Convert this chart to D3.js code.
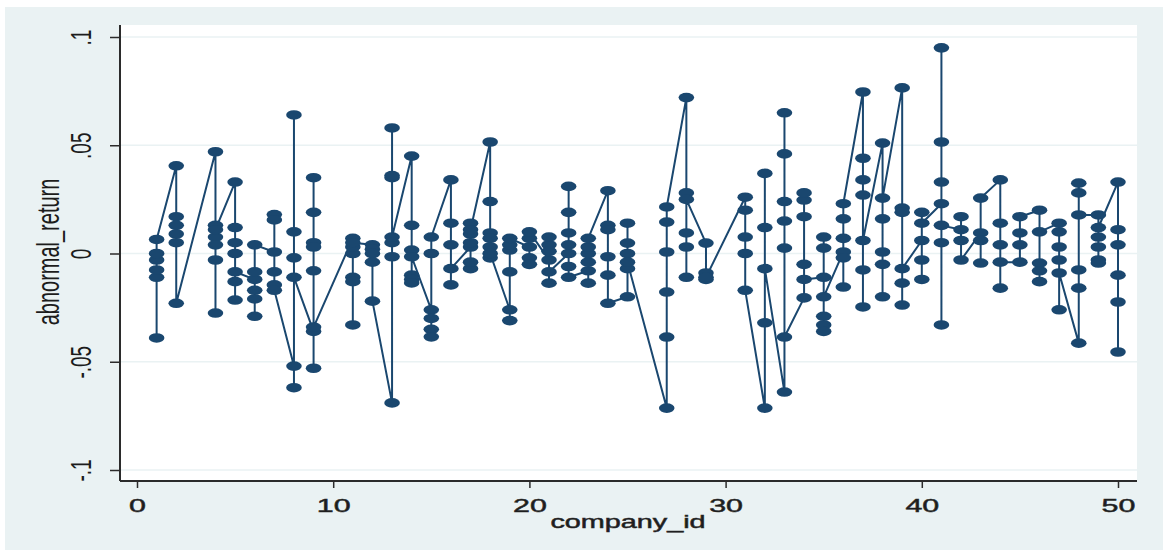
<!DOCTYPE html>
<meta charset="utf-8">

<!-- Load d3.js -->
<script src="https://d3js.org/d3.v7.min.js"></script>

<style>
  body { margin: 0; background: #ffffff; }
  text { font-family: "Liberation Sans", Arial, sans-serif; fill: #1c1c1c; }
</style>

<!-- Create a div where the graph will take place -->
<div id="chart_data"></div>

<script>
    // company ids that have observations (3, 10, 26 and 30 are missing)
    var companyIds = [1, 2, 4, 5, 6, 7, 8, 9, 11, 12, 13, 14, 15, 16, 17, 18, 19, 20, 21, 22, 23, 24, 25,
                      27, 28, 29, 31, 32, 33, 34, 35, 36, 37, 38, 39, 40, 41, 42, 43, 44, 45, 46, 47, 48, 49, 50];

    // abnormal returns per company, in the order the observations are connected
    var abnormalReturns = [
      [-0.039, -0.011, -0.0076, -0.003, 0.0, 0.0065],            // 1
      [0.0405, 0.017, 0.013, 0.009, 0.005, -0.023],              // 2
      [0.047, 0.013, 0.0076, 0.004, -0.003, -0.0275, 0.011],     // 4
      [0.033, 0.012, 0.005, -0.0215, -0.013, 0.0, -0.0085],      // 5
      [-0.012, -0.021, -0.029, -0.017, -0.0085, 0.004],          // 6
      [0.0007, 0.018, 0.0155, -0.0085, -0.0145, -0.017],         // 7
      [-0.052, -0.062, 0.064, 0.01, -0.002, -0.011],             // 8
      [-0.036, -0.053, 0.035, 0.019, 0.005, 0.003, -0.008, -0.034], // 9
      [0.007, -0.011, -0.033, -0.013, 0.0, 0.003, 0.005],        // 11
      [0.004, 0.002, 0.0, -0.004, -0.022],                       // 12
      [-0.069, -0.0015, 0.035, 0.058, 0.036, 0.005, 0.0076],     // 13
      [0.045, 0.013, -0.01, -0.012, -0.0136, 0.0016, -0.0015],   // 14
      [-0.026, -0.035, -0.0385, -0.03, 0.0, 0.0076],             // 15
      [0.034, 0.014, -0.0145, 0.004, -0.007],                    // 16
      [0.003, -0.007, -0.004, 0.005, 0.009, 0.014, 0.011],       // 17
      [0.0515, 0.024, 0.0095, 0.007, 0.003, -0.002, 0.0],        // 18
      [-0.026, -0.031, -0.0085, 0.0016, 0.004, 0.007],           // 19
      [0.003, -0.002, -0.005, 0.007, 0.01],                      // 20
      [-0.003, 0.004, 0.0076, 0.001, -0.0137, -0.0085],          // 21
      [0.0, 0.031, 0.019, 0.0095, 0.004, -0.006, -0.011],        // 22
      [-0.008, -0.0137, -0.004, 0.0, 0.003, 0.007],              // 23
      [0.029, 0.013, 0.011, -0.0015, -0.01, -0.023],             // 24
      [-0.02, 0.014, 0.0048, 0.0, -0.007, -0.004],               // 25
      [-0.0714, -0.0386, -0.0178, 0.0007, 0.0145, 0.0215],       // 27
      [0.072, 0.0095, -0.011, 0.003, 0.028, 0.025],              // 28
      [0.0048, -0.009, -0.012, -0.011],                          // 29
      [0.026, 0.02, 0.0076, 0.0, -0.017],                        // 31
      [-0.0714, -0.032, 0.012, 0.037, -0.007],                   // 32
      [-0.064, 0.0025, 0.015, 0.024, 0.046, 0.065, -0.0386],     // 33
      [-0.0205, -0.005, 0.017, 0.0247, 0.028, -0.012],           // 34
      [-0.011, 0.0076, 0.0025, -0.029, -0.033, -0.036, -0.02],   // 35
      [0.0007, -0.0155, -0.002, 0.007, 0.016, 0.023],            // 36
      [0.0746, 0.044, 0.034, 0.027, -0.0247, -0.0076, 0.006],    // 37
      [0.051, 0.016, -0.02, -0.005, 0.0007, 0.0256],             // 38
      [0.0765, 0.021, 0.019, -0.0238, -0.0137, -0.007],          // 39
      [0.006, -0.003, -0.012, 0.019, 0.014],                     // 40
      [0.023, 0.095, 0.0515, 0.033, 0.005, -0.033, 0.013],       // 41
      [0.011, 0.017, 0.006, -0.003],                             // 42
      [0.0095, -0.0044, 0.006, 0.0256],                          // 43
      [0.034, 0.014, -0.016, 0.004, -0.004],                     // 44
      [-0.004, 0.0095, 0.004, 0.017],                            // 45
      [0.02, -0.0044, -0.008, -0.013, 0.01],                     // 46
      [0.014, 0.01, 0.003, -0.026, -0.003, -0.009],              // 47
      [-0.0414, -0.016, -0.0076, 0.0325, 0.028, 0.0178],         // 48
      [0.0178, 0.0076, 0.003, -0.003, -0.0044, 0.012],           // 49
      [0.033, 0.011, 0.004, -0.01, -0.0224, -0.0455]             // 50
    ];

    // tick values and labels (Stata style)
    var xTicks = [0, 10, 20, 30, 40, 50];
    var xTickLabels = ["0", "10", "20", "30", "40", "50"];
    var yTicks = [-0.1, -0.05, 0, 0.05, 0.1];
    var yTickLabels = ["-.1", "-.05", "0", ".05", ".1"];

    // flatten into one row per observation, keeping the order
    var data = [];
    companyIds.forEach(function(id, i) {
      abnormalReturns[i].forEach(function(v) {
        data.push({ company_id: id, abnormal_return: v });
      });
    });

    var W = 1163, H = 553;
    var plot = {left: 120, right: 1137, top: 25, bottom: 481};
    var stretch = 1.6; // the picture is wider than tall, text is stretched with it
    var navy = "#1a476f";

    var svg = d3.select("#chart_data")
      .append("svg")
        .attr("width", W)
        .attr("height", H);

    // graph region and plot region backgrounds
    svg.append("rect")
      .attr("x", 5).attr("y", 7)
      .attr("width", W - 5).attr("height", H - 10)
      .attr("fill", "#eaf2f3");
    svg.append("rect")
      .attr("x", plot.left).attr("y", plot.top)
      .attr("width", plot.right - plot.left).attr("height", plot.bottom - plot.top)
      .attr("fill", "#ffffff");

    // scales
    var x = d3.scaleLinear()
      .domain([0, 50])
      .range([137, 1118]);
    var y = d3.scaleLinear()
      .domain([-0.1, 0.1])
      .range([470, 37]);

    // horizontal grid lines
    svg.append("g")
      .selectAll("line")
      .data(yTicks)
      .enter()
      .append("line")
        .attr("x1", plot.left)
        .attr("x2", plot.right)
        .attr("y1", function(d) { return y(d); })
        .attr("y2", function(d) { return y(d); })
        .attr("stroke", "#eaf2f3")
        .attr("stroke-width", 1.5);

    // connected line through all observations
    svg.append("path")
      .datum(data)
      .attr("fill", "none")
      .attr("stroke", navy)
      .attr("stroke-width", 2)
      .attr("stroke-linejoin", "round")
      .attr("d", d3.line()
        .x(function(d) { return x(d.company_id); })
        .y(function(d) { return y(d.abnormal_return); })
      );

    // markers
    svg.append("g")
      .selectAll("ellipse")
      .data(data)
      .enter()
      .append("ellipse")
        .attr("cx", function(d) { return x(d.company_id); })
        .attr("cy", function(d) { return y(d.abnormal_return); })
        .attr("rx", 7.8)
        .attr("ry", 4.8)
        .attr("fill", navy);

    // Y axis
    var yAxis = svg.append("g")
      .attr("transform", "translate(" + plot.left + ",0)")
      .call(d3.axisLeft(y)
        .tickValues(yTicks)
        .tickFormat(function(d, i) { return yTickLabels[i]; })
        .tickSize(10)
        .tickSizeOuter(0));
    yAxis.select(".domain")
      .attr("d", "M0," + plot.top + "V" + plot.bottom)
      .attr("stroke", "#2b2b2b").attr("stroke-width", 2);
    yAxis.selectAll(".tick line").attr("stroke", "#2b2b2b").attr("stroke-width", 1.5);
    yAxis.selectAll(".tick text")
      .attr("x", null).attr("dy", null)
      .attr("text-anchor", "middle")
      .attr("transform", "translate(-29,0) scale(" + stretch + ",1) rotate(-90)")
      .style("font-size", "19px")
      .style("font-family", "Liberation Sans, Arial, sans-serif")
      .attr("fill", "#1c1c1c");

    // X axis
    var xAxis = svg.append("g")
      .attr("transform", "translate(0," + plot.bottom + ")")
      .call(d3.axisBottom(x)
        .tickValues(xTicks)
        .tickFormat(function(d, i) { return xTickLabels[i]; })
        .tickSize(7)
        .tickSizeOuter(0));
    xAxis.select(".domain")
      .attr("d", "M" + plot.left + ",0H" + plot.right)
      .attr("stroke", "#2b2b2b").attr("stroke-width", 2);
    xAxis.selectAll(".tick line").attr("stroke", "#2b2b2b").attr("stroke-width", 1.5);
    xAxis.selectAll(".tick text")
      .attr("y", null).attr("dy", null)
      .attr("text-anchor", "middle")
      .attr("transform", "translate(0,31) scale(" + stretch + ",1)")
      .style("font-size", "19px")
      .style("font-family", "Liberation Sans, Arial, sans-serif")
      .attr("fill", "#2a2a2a")
      .attr("stroke", "#2a2a2a")
      .attr("stroke-width", 0.5);

    // axis titles
    svg.append("text")
      .attr("text-anchor", "middle")
      .attr("transform", "translate(628,528) scale(" + stretch + ",1)")
      .style("font-size", "18px")
      .attr("fill", "#2a2a2a")
      .attr("stroke", "#2a2a2a")
      .attr("stroke-width", 0.5)
      .text("company_id");
    svg.append("text")
      .attr("text-anchor", "middle")
      .attr("transform", "translate(59,252) scale(" + stretch + ",1) rotate(-90)")
      .style("font-size", "20px")
      .text("abnormal_return");
</script>
